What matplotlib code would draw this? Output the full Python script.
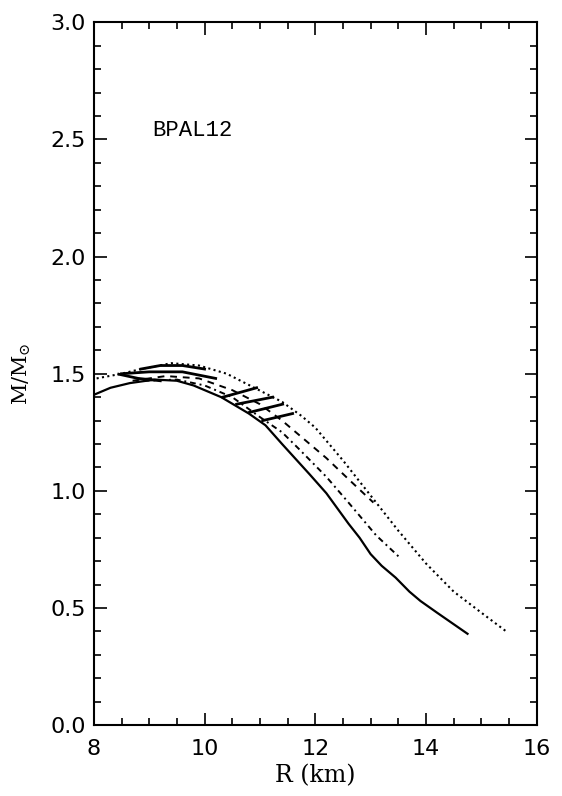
import matplotlib
matplotlib.use("Agg")
import matplotlib.pyplot as plt
from matplotlib.ticker import MultipleLocator

plt.rcParams['mathtext.fontset'] = 'dejavuserif'

# mass-radius curves (R in km, M in solar masses)
r_solid = [8.0, 8.3, 8.65, 9.1, 9.5, 9.8, 10.3, 10.8, 11.1, 11.4, 11.9, 12.2,
           12.6, 12.8, 13.0, 13.2, 13.45, 13.7, 13.9, 14.2, 14.75]
m_solid = [1.41, 1.44, 1.46, 1.475, 1.47, 1.45, 1.40, 1.33, 1.28, 1.20, 1.07, 0.99,
           0.86, 0.80, 0.73, 0.68, 0.63, 0.57, 0.53, 0.48, 0.39]

r_dashdot = [8.9, 9.5, 10.0, 10.5, 11.0, 11.4, 11.7, 12.2, 12.6, 13.1, 13.55]
m_dashdot = [1.47, 1.475, 1.45, 1.40, 1.315, 1.25, 1.18, 1.06, 0.95, 0.81, 0.71]

r_dashed = [8.7, 9.3, 9.9, 10.5, 11.0, 11.4, 11.8, 12.2, 12.6, 13.05]
m_dashed = [1.47, 1.49, 1.48, 1.43, 1.37, 1.30, 1.22, 1.14, 1.05, 0.95]

r_dotted = [8.05, 8.5, 8.85, 9.4, 9.9, 10.4, 10.9, 11.4, 11.75, 12.0, 12.5,
            13.0, 13.5, 14.0, 14.5, 15.0, 15.45]
m_dotted = [1.48, 1.50, 1.52, 1.545, 1.535, 1.50, 1.44, 1.38, 1.32, 1.27, 1.13,
            0.98, 0.83, 0.69, 0.57, 0.48, 0.40]

# thick connecting segments across the band
hatch_r = [[8.85, 9.2, 9.6, 10.0],
           [8.5, 9.0, 9.6, 10.2],
           [8.45, 8.8, 9.2],
           [10.33, 10.94],
           [10.58, 11.23],
           [10.81, 11.41],
           [11.05, 11.59]]
hatch_m = [[1.52, 1.535, 1.535, 1.52],
           [1.50, 1.508, 1.508, 1.48],
           [1.498, 1.48, 1.47],
           [1.40, 1.44],
           [1.37, 1.40],
           [1.335, 1.37],
           [1.30, 1.33]]

fig = plt.figure(figsize=(5.62, 7.96), dpi=100)
ax = fig.add_axes([0.167, 0.089, 0.788, 0.883])

ax.plot(r_solid, m_solid, color="black", lw=1.6)
ax.plot(r_dashdot, m_dashdot, color="black", lw=1.4, linestyle=(0, (3, 2, 1, 2)))
ax.plot(r_dashed, m_dashed, color="black", lw=1.4, linestyle=(0, (3.5, 3)))
ax.plot(r_dotted, m_dotted, color="black", lw=1.5, linestyle=(0, (1, 1.6)))
for hr, hm in zip(hatch_r, hatch_m):
    ax.plot(hr, hm, color="black", lw=2.0)

ax.text(9.05, 2.54, "BPAL12", family="Liberation Mono", fontsize=16, va="center")

ax.set_xlim(8, 16)
ax.set_ylim(0, 3.0)
ax.xaxis.set_major_locator(MultipleLocator(2))
ax.xaxis.set_minor_locator(MultipleLocator(0.5))
ax.yaxis.set_major_locator(MultipleLocator(0.5))
ax.yaxis.set_minor_locator(MultipleLocator(0.1))
ax.set_yticks([0.0, 0.5, 1.0, 1.5, 2.0, 2.5, 3.0])
ax.set_yticklabels(["0.0", "0.5", "1.0", "1.5", "2.0", "2.5", "3.0"])
ax.tick_params(which="both", direction="in", top=True, right=True, width=1.2)
ax.tick_params(which="major", length=9, labelsize=16, pad=6)
ax.tick_params(which="minor", length=5)
ax.tick_params(axis="x", which="major", pad=10)
for s in ax.spines.values():
    s.set_linewidth(1.5)

ax.set_xlabel("R (km)", family="DejaVu Serif", fontsize=17, labelpad=4)
ax.set_ylabel(r"M/M$_{\odot}$", family="DejaVu Serif", fontsize=15, labelpad=12)

fig.savefig("out.png", dpi=100)
